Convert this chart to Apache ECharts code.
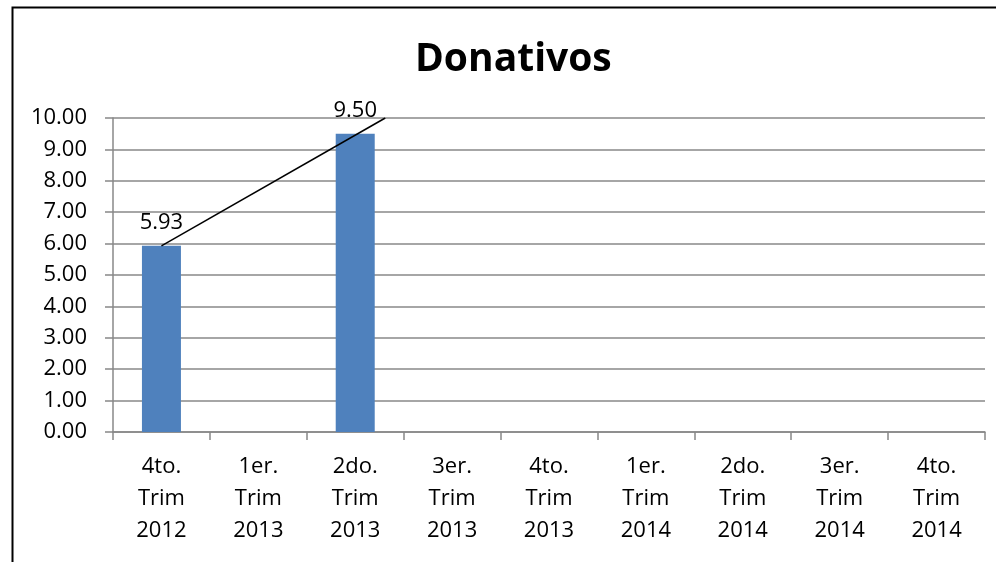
<!DOCTYPE html>
<html>
<head>
<meta charset="UTF-8">
<title>Donativos</title>
<script src="https://cdn.jsdelivr.net/npm/echarts@6.0.0/dist/echarts.min.js"></script>
<style>
  html, body { margin: 0; padding: 0; background: #fff; }
  #chart { width: 996px; height: 562px; }
</style>
</head>
<body>
<div id="chart"></div>
<script>
// categorias (trimestres)
const categories = [
  '4to.\nTrim\n2012', '1er.\nTrim\n2013', '2do.\nTrim\n2013',
  '3er.\nTrim\n2013', '4to.\nTrim\n2013', '1er.\nTrim\n2014',
  '2do.\nTrim\n2014', '3er.\nTrim\n2014', '4to.\nTrim\n2014'
];
const donativos = [5.93, null, 9.50, null, null, null, null, null, null];
// linea de tendencia (posicion de categoria, valor)
const trendX = [0, 2.31];
const trendY = [5.93, 10.0];
const yTicks = { min: 0, max: 10, interval: 1 };

const font = 'Open Sans';
const gridColor = '#888888';

const chart = echarts.init(document.getElementById('chart'));
chart.setOption({
  animation: false,
  textStyle: { fontFamily: font },
  title: {
    text: 'Donativos',
    left: 410,
    top: 35,
    textStyle: { fontFamily: font, fontSize: 39, fontWeight: 'bold', color: '#000' }
  },
  graphic: [{
    type: 'rect',
    left: 10, top: 5,
    shape: { width: 1100, height: 700 },
    style: { fill: 'none', stroke: '#000', lineWidth: 2 }
  }],
  grid: { left: 113, right: 11, top: 118, bottom: 130 },
  xAxis: [{
    type: 'category',
    data: categories,
    axisLine: { lineStyle: { color: gridColor, width: 1.5 } },
    axisTick: { show: true, length: 8, lineStyle: { color: gridColor, width: 1.5 } },
    axisLabel: { color: '#000', fontSize: 22, lineHeight: 32, margin: 19, interval: 0 }
  }, {
    type: 'value',
    min: -0.5, max: 8.5,
    show: false
  }],
  yAxis: {
    type: 'value',
    min: yTicks.min, max: yTicks.max, interval: yTicks.interval,
    axisLine: { show: true, onZero: false, lineStyle: { color: gridColor, width: 1.5 } },
    axisTick: { show: true, length: 8, lineStyle: { color: gridColor, width: 1.5 } },
    splitLine: { lineStyle: { color: gridColor, width: 1.5 } },
    axisLabel: {
      color: '#000', fontSize: 22, margin: 26,
      formatter: v => v.toFixed(2)
    }
  },
  series: [{
    type: 'bar',
    data: donativos,
    barWidth: 39,
    itemStyle: { color: '#4f81bd' },
    label: {
      show: true, position: 'top', distance: 12,
      color: '#000', fontSize: 22,
      formatter: p => p.value == null ? '' : p.value.toFixed(2)
    }
  }, {
    type: 'line',
    xAxisIndex: 1,
    data: trendX.map((x, i) => [x, trendY[i]]),
    symbol: 'none',
    lineStyle: { color: '#000', width: 1.5 },
    z: 5
  }]
});
</script>
</body>
</html>
